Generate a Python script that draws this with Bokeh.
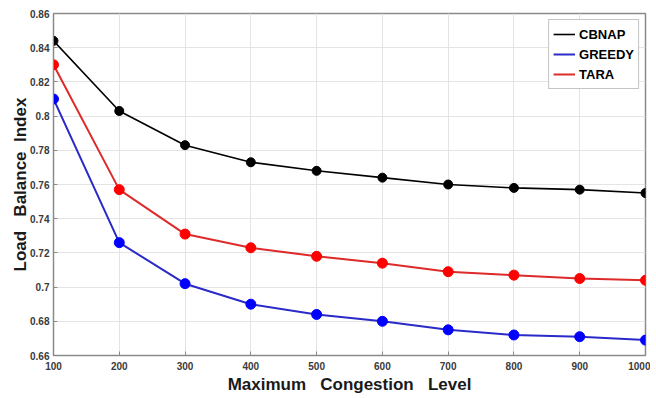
from bokeh.plotting import figure
from bokeh.models import FixedTicker, Range1d
from bokeh.embed import file_html
from bokeh.resources import INLINE

levels = [100, 200, 300, 400, 500, 600, 700, 800, 900, 1000]
cbnap = [0.844, 0.803, 0.783, 0.773, 0.768, 0.764, 0.760, 0.758, 0.757, 0.755]
greedy = [0.810, 0.726, 0.702, 0.690, 0.684, 0.680, 0.675, 0.672, 0.671, 0.669]
tara = [0.830, 0.757, 0.731, 0.723, 0.718, 0.714, 0.709, 0.707, 0.705, 0.704]

x_ticks = [100, 200, 300, 400, 500, 600, 700, 800, 900, 1000]
y_ticks = [0.66, 0.68, 0.70, 0.72, 0.74, 0.76, 0.78, 0.80, 0.82, 0.84, 0.86]
y_tick_labels = ["0.66", "0.68", "0.7", "0.72", "0.74", "0.76", "0.78", "0.8", "0.82", "0.84", "0.86"]

FONT = "Liberation Sans"
NB = "\u00a0"
x_title = "Maximum" + NB * 3 + "Congestion" + NB * 3 + "Level"
y_title = "Load" + NB * 3 + "Balance" + NB * 2 + "Index"

p = figure(width=650, height=396, output_backend="svg", toolbar_location=None,
           x_range=Range1d(100, 1000), y_range=Range1d(0.66, 0.86),
           min_border_left=53, min_border_right=5, min_border_top=13, min_border_bottom=40)

p.outline_line_color = "#8a8a8a"
p.outline_line_width = 1.5
p.background_fill_color = "white"

for ax in p.xaxis + p.yaxis:
    ax.major_label_text_font = FONT
    ax.major_label_text_font_style = "bold"
    ax.major_label_text_font_size = "10px"
    ax.major_label_text_color = "#3a3a3a"
    ax.axis_label_text_font = FONT
    ax.axis_label_text_font_style = "bold"
    ax.axis_label_text_font_size = "17px"
    ax.axis_label_text_color = "#1a1a1a"
    ax.axis_line_color = "#8a8a8a"
    ax.major_tick_line_color = "#8a8a8a"
    ax.major_tick_in = 4
    ax.major_tick_out = 0
    ax.minor_tick_line_color = None

p.xaxis.major_label_standoff = 6
p.yaxis.major_label_standoff = 4
p.xaxis.ticker = FixedTicker(ticks=x_ticks)
p.yaxis.ticker = FixedTicker(ticks=y_ticks)
p.yaxis.major_label_overrides = {t: l for t, l in zip(y_ticks, y_tick_labels)}
p.xaxis.axis_label = x_title
p.yaxis.axis_label = y_title
p.xaxis.axis_label_standoff = 2
p.yaxis.axis_label_standoff = -3

p.xgrid.ticker = FixedTicker(ticks=x_ticks)
p.ygrid.ticker = FixedTicker(ticks=y_ticks)
p.grid.grid_line_color = "#e4e4e4"
p.grid.grid_line_width = 1

series = [("CBNAP", cbnap, "black", "black", 9, 1.6),
          ("GREEDY", greedy, "#2a2ac8", "#0000ff", 10, 2),
          ("TARA", tara, "#dd2a2a", "#ff0000", 10, 2)]
for name, vals, lc, mc, ms, lw in series:
    p.line(levels, vals, line_color=lc, line_width=lw, legend_label=name)
    p.scatter(levels, vals, size=ms, fill_color=mc, line_color=mc)

lg = p.legend[0]
lg.location = "top_right"
lg.margin = 6
lg.border_line_color = "#8a8a8a"
lg.border_line_width = 1
lg.label_text_font = FONT
lg.label_text_font_style = "bold"
lg.label_text_font_size = "13px"
lg.label_text_color = "black"
lg.glyph_width = 22
lg.glyph_height = 20
lg.label_height = 20
lg.spacing = 0
lg.padding = 4
lg.label_standoff = 4
lg.background_fill_alpha = 1

open("out.html", "w").write(file_html(p, INLINE))
